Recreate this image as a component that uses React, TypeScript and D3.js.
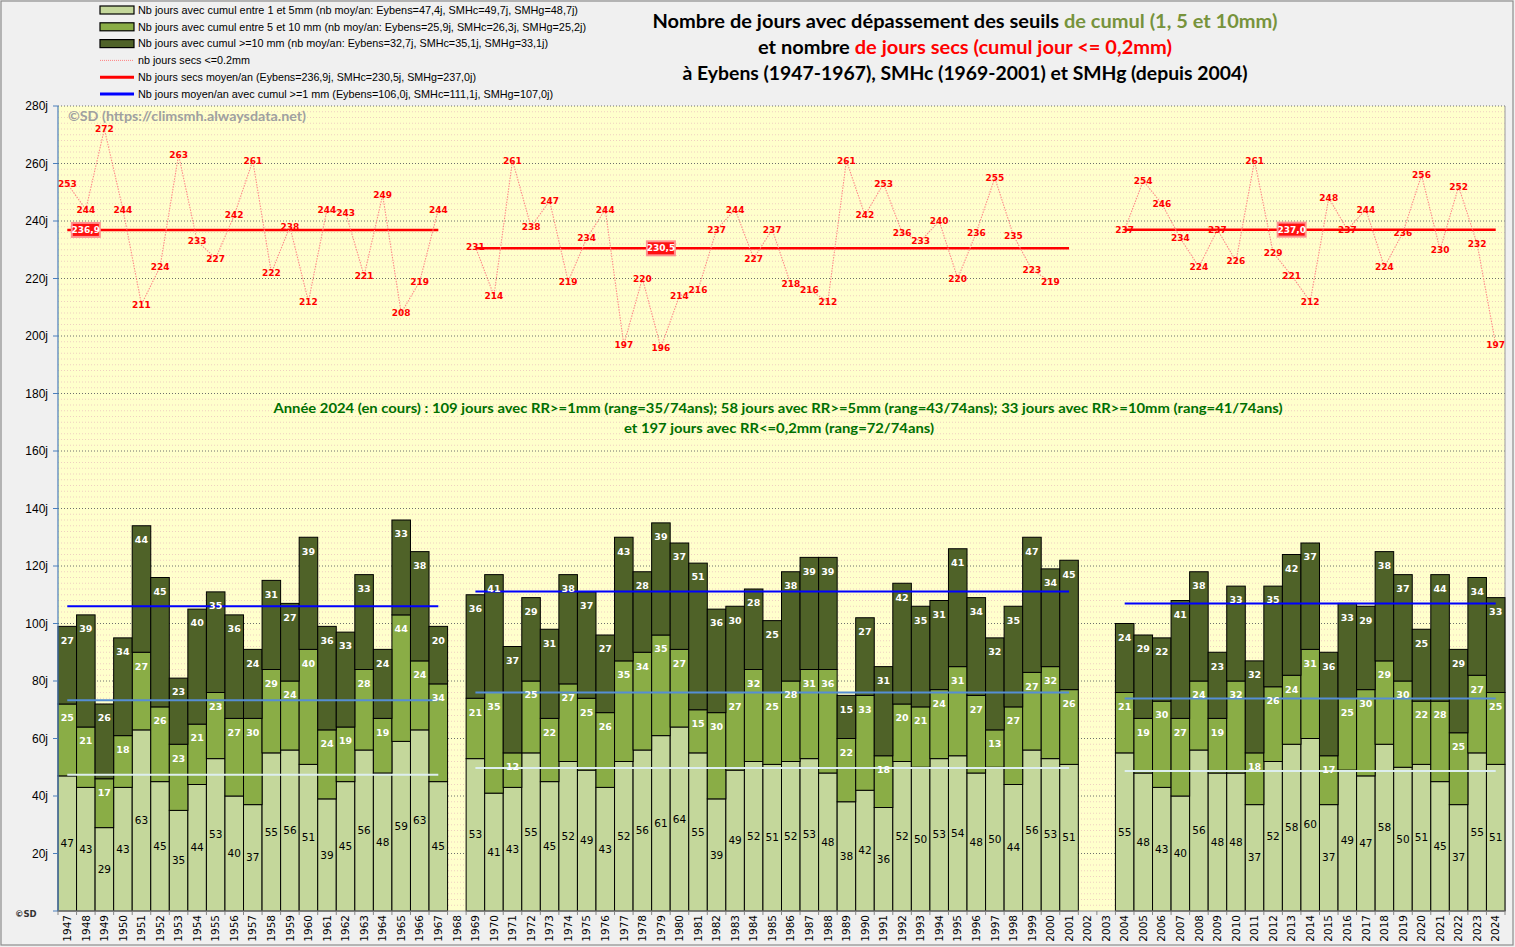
import React from "react";
import * as d3 from "d3";

const years = [
  1947, 1948, 1949, 1950, 1951, 1952, 1953, 1954, 1955, 1956, 1957, 1958, 1959, 1960, 1961, 1962, 1963, 1964, 1965, 1966, 1967, 1968,
  1969, 1970, 1971, 1972, 1973, 1974, 1975, 1976, 1977, 1978, 1979, 1980, 1981, 1982, 1983, 1984, 1985, 1986, 1987, 1988, 1989, 1990,
  1991, 1992, 1993, 1994, 1995, 1996, 1997, 1998, 1999, 2000, 2001, 2002, 2003, 2004, 2005, 2006, 2007, 2008, 2009, 2010, 2011, 2012,
  2013, 2014, 2015, 2016, 2017, 2018, 2019, 2020, 2021, 2022, 2023, 2024,
];

// days with 1 to 5 mm
const light = [
  47, 43, 29, 43, 63, 45, 35, 44, 53, 40, 37, 55, 56, 51, 39, 45, 56, 48, 59, 63, 45, null,
  53, 41, 43, 55, 45, 52, 49, 43, 52, 56, 61, 64, 55, 39, 49, 52, 51, 52, 53, 48, 38, 42, 36, 52, 50, 53, 54, 48, 50, 44, 56, 53, 51,
  null, null,
  55, 48, 43, 40, 56, 48, 48, 37, 52, 58, 60, 37, 49, 47, 58, 50, 51, 45, 37, 55, 51,
];
// days with 5 to 10 mm
const mid = [
  25, 21, 17, 18, 27, 26, 23, 21, 23, 27, 30, 29, 24, 40, 24, 19, 28, 19, 44, 24, 34, null,
  21, 35, 12, 25, 22, 27, 25, 26, 35, 34, 35, 27, 15, 30, 27, 32, 25, 28, 31, 36, 22, 33, 18, 20, 21, 24, 31, 27, 13, 27, 27, 32, 26,
  null, null,
  21, 19, 30, 27, 24, 19, 32, 18, 26, 24, 31, 17, 25, 30, 29, 30, 22, 28, 25, 27, 25,
];
// days with >= 10 mm
const dark = [
  27, 39, 26, 34, 44, 45, 23, 40, 35, 36, 24, 31, 27, 39, 36, 33, 33, 24, 33, 38, 20, null,
  36, 41, 37, 29, 31, 38, 37, 27, 43, 28, 39, 37, 51, 36, 30, 28, 25, 38, 39, 39, 15, 27, 31, 42, 35, 31, 41, 34, 32, 35, 47, 34, 45,
  null, null,
  24, 29, 22, 41, 38, 23, 33, 32, 35, 42, 37, 36, 33, 29, 38, 37, 25, 44, 29, 34, 33,
];
// dry days (<= 0.2 mm)
const dry = [
  253, 244, 272, 244, 211, 224, 263, 233, 227, 242, 261, 222, 238, 212, 244, 243, 221, 249, 208, 219, 244, null,
  231, 214, 261, 238, 247, 219, 234, 244, 197, 220, 196, 214, 216, 237, 244, 227, 237, 218, 216, 212, 261, 242, 253, 236, 233, 240, 220,
  236, 255, 235, 223, 219, null,
  null, null,
  237, 254, 246, 234, 224, 237, 226, 261, 229, 221, 212, 248, 237, 244, 224, 236, 256, 230, 252, 232, 197,
];

const periodStart = [1947, 1969, 2004];
const periodEnd = [1967, 2001, 2024];
const meanDry = [236.9, 230.5, 237.0];
const meanDryLabel = ["236,9", "230,5", "237,0"];
const meanDryLabelYear = [1948, 1979, 2013];
const mean1mm = [106.0, 111.1, 107.0];
const mean1to5 = [47.4, 49.7, 48.7];
const mean5to10 = [25.9, 26.3, 25.2];

const yTicks = [20, 40, 60, 80, 100, 120, 140, 160, 180, 200, 220, 240, 260, 280];

const legendItems = [
  { kind: "rect", color: "#c4d79b", text: "Nb jours avec cumul entre 1 et 5mm (nb moy/an: Eybens=47,4j, SMHc=49,7j, SMHg=48,7j)", w: 440 },
  { kind: "rect", color: "#8aad46", text: "Nb jours avec cumul entre 5 et 10 mm (nb moy/an: Eybens=25,9j, SMHc=26,3j, SMHg=25,2j)", w: 448 },
  { kind: "rect", color: "#4f6228", text: "Nb jours avec cumul >=10 mm (nb moy/an: Eybens=32,7j, SMHc=35,1j, SMHg=33,1j)", w: 410 },
  { kind: "dot", color: "#ff8080", text: "nb jours secs <=0.2mm", w: 112 },
  { kind: "line", color: "#ff0000", text: "Nb jours secs moyen/an (Eybens=236,9j, SMHc=230,5j, SMHg=237,0j)", w: 338 },
  { kind: "line", color: "#0000ff", text: "Nb jours moyen/an avec cumul >=1 mm (Eybens=106,0j, SMHc=111,1j, SMHg=107,0j)", w: 415 },
];

const C_LIGHT = "#c4d79b";
const C_MID = "#8aad46";
const C_DARK = "#4f6228";

export default function App() {
  const W = 1515;
  const H = 947;
  const L = 58, R = 1505, T = 106, B = 911;

  const x = d3.scaleBand<number>().domain(years).range([L, R]).padding(0);
  const y = d3.scaleLinear().domain([0, 280]).range([B, T]);
  const bw = x.bandwidth();
  const cx = (yr: number) => (x(yr) as number) + bw / 2;

  const rows = years.map((yr, i) => ({
    year: yr,
    light: light[i] ?? 0,
    mid: mid[i] ?? 0,
    dark: dark[i] ?? 0,
    has: light[i] != null,
  }));
  const stack = d3.stack<any>().keys(["light", "mid", "dark"])(rows);
  const colors = [C_LIGHT, C_MID, C_DARK];

  const minor = d3.range(2, 280, 2).filter((v) => v % 20 !== 0);

  const dryLine = d3
    .line<number | null>()
    .defined((d) => d != null)
    .x((_, i) => cx(years[i]))
    .y((d) => y(d as number));

  const font = "'DejaVu Sans', Verdana, sans-serif";
  const calib = "Lato, 'Open Sans', sans-serif";

  return (
    <svg width={W} height={H} style={{ position: "absolute", left: 0, top: 0, display: "block" }} xmlns="http://www.w3.org/2000/svg">
      <rect x={0} y={0} width={W} height={H} fill="#f0f0f0" />
      <rect x={1} y={1} width={W - 3} height={H - 3} fill="none" stroke="#8c8c8c" strokeWidth={1.2} />

      {/* legend */}
      {legendItems.map((it, i) => {
        const cy = 10 + i * 16.8;
        return (
          <g key={i}>
            {it.kind === "rect" && <rect x={100} y={cy - 4} width={34} height={8} fill={it.color} stroke="#000" strokeWidth={1.2} />}
            {it.kind === "dot" && <line x1={100} x2={134} y1={cy} y2={cy} stroke={it.color} strokeWidth={1} strokeDasharray="1 1" />}
            {it.kind === "line" && <line x1={100} x2={134} y1={cy} y2={cy} stroke={it.color} strokeWidth={3} />}
            <text x={138} y={cy} dy="0.35em" fontFamily="'Liberation Sans', Arial, sans-serif" fontSize={11} fill="#000" textLength={it.w} lengthAdjust="spacingAndGlyphs">
              {it.text}
            </text>
          </g>
        );
      })}

      {/* title */}
      <g fontFamily={calib} fontWeight="bold" fontSize={18} textAnchor="middle">
        <text x={965} y={28} textLength={625} lengthAdjust="spacingAndGlyphs">
          <tspan fill="#000">Nombre de jours avec dépassement des seuils </tspan>
          <tspan fill="#77933c">de cumul (1, 5 et 10mm)</tspan>
        </text>
        <text x={965} y={54} textLength={414} lengthAdjust="spacingAndGlyphs">
          <tspan fill="#000">et nombre </tspan>
          <tspan fill="#ff0000">de jours secs (cumul jour &lt;= 0,2mm)</tspan>
        </text>
        <text x={965} y={80} fill="#000" textLength={565} lengthAdjust="spacingAndGlyphs">
          à Eybens (1947-1967), SMHc (1969-2001) et SMHg (depuis 2004)
        </text>
      </g>

      {/* plot background */}
      <rect x={L} y={T} width={R - L} height={B - T} fill="#ffffcc" />
      {minor.map((v) => (
        <line key={"m" + v} x1={L} x2={R} y1={y(v)} y2={y(v)} stroke="#efcfc0" strokeWidth={1} strokeDasharray="1 2" />
      ))}
      {yTicks.map((v) => (
        <line key={"g" + v} x1={L} x2={R} y1={y(v)} y2={y(v)} stroke="#6e6e6e" strokeWidth={1} strokeDasharray="1 2" />
      ))}
      <line x1={R} x2={R} y1={T} y2={B} stroke="#9a9a9a" strokeWidth={1} />

      {/* watermark */}
      <text x={68} y={116} dy="0.35em" fontFamily={calib} fontWeight="bold" fontSize={13} fill="#a0a0a0" textLength={238} lengthAdjust="spacingAndGlyphs">
        ©SD (https://climsmh.alwaysdata.net)
      </text>

      {/* bars */}
      {stack.map((layer, li) => (
        <g key={"l" + li}>
          {layer.map((d, i) =>
            rows[i].has ? (
              <rect
                key={i}
                x={x(years[i])}
                y={y(d[1])}
                width={bw}
                height={y(d[0]) - y(d[1])}
                fill={colors[li]}
                stroke="#000"
                strokeWidth={1}
              />
            ) : null
          )}
        </g>
      ))}

      {/* mean lines */}
      {periodStart.map((s, i) => {
        const x1 = cx(s);
        const x2 = cx(periodEnd[i]);
        return (
          <g key={"p" + i}>
            <line x1={x1} x2={x2} y1={y(mean1to5[i])} y2={y(mean1to5[i])} stroke="#ddeeee" strokeWidth={2} />
            <line x1={x1} x2={x2} y1={y(mean1to5[i] + mean5to10[i])} y2={y(mean1to5[i] + mean5to10[i])} stroke="#558ed5" strokeWidth={2} />
            <line x1={x1} x2={x2} y1={y(mean1mm[i])} y2={y(mean1mm[i])} stroke="#0000ff" strokeWidth={2} />
            <line x1={x1} x2={x2} y1={y(meanDry[i])} y2={y(meanDry[i])} stroke="#ff0000" strokeWidth={2.5} />
          </g>
        );
      })}

      {/* dry days dotted line */}
      <path d={dryLine(dry) || ""} fill="none" stroke="#ff8a8a" strokeWidth={1.1} strokeDasharray="1.5 1.2" />

      {/* bar labels */}
      <g fontFamily={font} textAnchor="middle">
        {stack[0].map((d, i) =>
          rows[i].has ? (
            <text key={"a" + i} x={cx(years[i])} y={(y(d[0]) + y(d[1])) / 2} dy="0.35em" fontSize={10.5} fill="#000">
              {light[i]}
            </text>
          ) : null
        )}
        {stack[1].map((d, i) =>
          rows[i].has ? (
            <text key={"b" + i} x={cx(years[i])} y={y(d[1]) + 14} dy="0.35em" fontSize={9.5} fontWeight="bold" fill="#fff">
              {mid[i]}
            </text>
          ) : null
        )}
        {stack[2].map((d, i) =>
          rows[i].has ? (
            <text key={"c" + i} x={cx(years[i])} y={y(d[1]) + 14} dy="0.35em" fontSize={9.5} fontWeight="bold" fill="#fff">
              {dark[i]}
            </text>
          ) : null
        )}
      </g>

      {/* dry labels */}
      <g fontFamily={font} textAnchor="middle" fontWeight="bold" fontSize={9} fill="#ff0000">
        {dry.map((v, i) =>
          v != null ? (
            <text key={"d" + i} x={cx(years[i])} y={y(v)} dy="0.35em">
              {v}
            </text>
          ) : null
        )}
      </g>

      {/* mean dry label boxes */}
      {meanDryLabelYear.map((yr, i) => (
        <g key={"bx" + i}>
          <rect x={cx(yr) - 14} y={y(meanDry[i]) - 7} width={28} height={14} fill="#ff1010" stroke="#ff9090" strokeWidth={2} />
          <text x={cx(yr)} y={y(meanDry[i])} dy="0.35em" textAnchor="middle" fontFamily={font} fontWeight="bold" fontSize={9} fill="#fff">
            {meanDryLabel[i]}
          </text>
        </g>
      ))}

      {/* annotation */}
      <g fontFamily={calib} fontWeight="bold" fontSize={13} fill="#007000" textAnchor="middle">
        <text x={778} y={408} dy="0.35em" textLength={1009} lengthAdjust="spacingAndGlyphs">
          Année 2024 (en cours) : 109 jours avec RR&gt;=1mm (rang=35/74ans); 58 jours avec RR&gt;=5mm (rang=43/74ans); 33 jours avec RR&gt;=10mm (rang=41/74ans)
        </text>
        <text x={779} y={428} dy="0.35em" textLength={310} lengthAdjust="spacingAndGlyphs">
          et 197 jours avec RR&lt;=0,2mm (rang=72/74ans)
        </text>
      </g>

      {/* y axis */}
      <line x1={L} x2={L} y1={T} y2={B} stroke="#4a7ebb" strokeWidth={1.2} />
      {yTicks.map((v) => (
        <g key={"yt" + v}>
          <line x1={L - 5} x2={L} y1={y(v)} y2={y(v)} stroke="#4a7ebb" strokeWidth={1} />
          <text x={48} y={y(v)} dy="0.35em" textAnchor="end" fontFamily="'Liberation Sans', Arial, sans-serif" fontSize={12} fill="#000">
            {v}j
          </text>
        </g>
      ))}
      <line x1={L - 5} x2={L} y1={B} y2={B} stroke="#4a7ebb" strokeWidth={1} />

      {/* x axis */}
      <line x1={L} x2={R} y1={B} y2={B} stroke="#868686" strokeWidth={1} />
      {years.map((yr) => (
        <line key={"xt" + yr} x1={x(yr)} x2={x(yr)} y1={B} y2={B + 4} stroke="#868686" strokeWidth={1} />
      ))}
      <line x1={R} x2={R} y1={B} y2={B + 4} stroke="#868686" strokeWidth={1} />
      {years.map((yr) => (
        <text
          key={"xl" + yr}
          transform={`translate(${cx(yr)},${B + 4}) rotate(-90)`}
          dy="0.35em"
          textAnchor="end"
          fontFamily={font}
          fontSize={10.5}
          fill="#000"
        >
          {yr}
        </text>
      ))}

      <text x={15} y={914} dy="0.35em" fontFamily={font} fontWeight="bold" fontSize={8.5} fill="#333">
        ©SD
      </text>
    </svg>
  );
}
